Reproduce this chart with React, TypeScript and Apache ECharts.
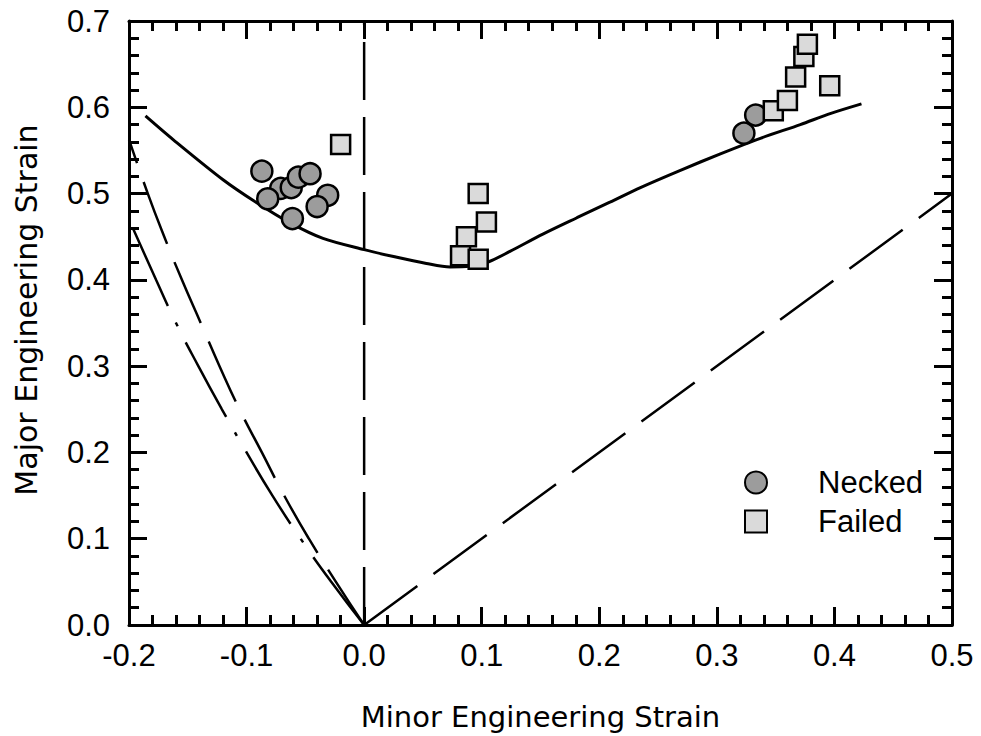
import React, { useEffect, useRef } from "react";
import * as echarts from "echarts";

// Tick labels
const xTicks = [-0.2, -0.1, 0.0, 0.1, 0.2, 0.3, 0.4, 0.5];
const yTicks = [0.0, 0.1, 0.2, 0.3, 0.4, 0.5, 0.6, 0.7];

// Scatter data
const neckedMinor = [-0.087, -0.071, -0.082, -0.062, -0.056, -0.046, -0.031, -0.040, -0.061, 0.323, 0.333];
const neckedMajor = [0.526, 0.506, 0.494, 0.507, 0.519, 0.523, 0.498, 0.485, 0.471, 0.570, 0.591];

const failedMinor = [-0.020, 0.097, 0.104, 0.087, 0.082, 0.097, 0.348, 0.360, 0.367, 0.374, 0.377, 0.396];
const failedMajor = [0.557, 0.500, 0.467, 0.450, 0.428, 0.424, 0.596, 0.608, 0.635, 0.659, 0.673, 0.625];

// Forming limit curve (solid)
const flcMinor = [-0.186, -0.162, -0.120, -0.091, -0.063, -0.035, 0.0, 0.025, 0.053, 0.073, 0.090, 0.106, 0.124, 0.152, 0.181, 0.209, 0.235, 0.269, 0.303, 0.337, 0.371, 0.397, 0.423];
const flcMajor = [0.590, 0.562, 0.516, 0.489, 0.466, 0.448, 0.435, 0.427, 0.419, 0.415, 0.416, 0.421, 0.433, 0.453, 0.472, 0.490, 0.507, 0.527, 0.546, 0.564, 0.580, 0.593, 0.604];

// Strain paths
const uniaxMinor = [0.0, -0.024, -0.047, -0.068, -0.087, -0.106, -0.123, -0.139, -0.155, -0.170, -0.184, -0.200];
const uniaxMajor = [0.0, 0.05, 0.10, 0.15, 0.20, 0.25, 0.30, 0.35, 0.40, 0.45, 0.50, 0.5625];

const dashDotMinor = [0.0, -0.028, -0.054, -0.078, -0.100, -0.121, -0.141, -0.160, -0.177, -0.200];
const dashDotMajor = [0.0, 0.05, 0.10, 0.15, 0.20, 0.25, 0.30, 0.35, 0.40, 0.47];

const planeMinor = [0.0, 0.0];
const planeMajor = [0.0, 0.7];

const biaxMinor = [0.0, 0.5];
const biaxMajor = [0.0, 0.5];

const zip = (a: number[], b: number[]) => a.map((v, i) => [v, b[i]]);

const TICK_FONT = "'Liberation Sans', Arial, sans-serif";
const TITLE_FONT = "'DejaVu Sans', sans-serif";

export default function App() {
  const ref = useRef<HTMLDivElement>(null);
  useEffect(() => {
    if (!ref.current) return;
    const chart = echarts.init(ref.current, undefined, { renderer: "svg" });

    const axisBase = {
      type: "value" as const,
      axisLine: { show: true, onZero: false, lineStyle: { color: "#000", width: 3 } },
      axisTick: { show: true, inside: true, length: 18, lineStyle: { color: "#000", width: 3 } },
      minorTick: { show: true, splitNumber: 5, length: 10, lineStyle: { color: "#000", width: 3 } },
      splitLine: { show: false },
      minorSplitLine: { show: false },
    };

    const fmt = (v: number) => v.toFixed(1);

    chart.setOption({
      animation: false,
      backgroundColor: "#fff",
      grid: { left: 129, right: 29, top: 21, bottom: 111, containLabel: false },
      xAxis: [
        {
          ...axisBase,
          position: "bottom",
          min: xTicks[0],
          max: xTicks[xTicks.length - 1],
          interval: 0.1,
          name: "Minor Engineering Strain",
          nameLocation: "middle",
          nameGap: 77,
          nameTextStyle: { fontFamily: TITLE_FONT, fontSize: 29, color: "#000" },
          axisLabel: { show: true, margin: 15, formatter: fmt, fontFamily: TICK_FONT, fontSize: 31, color: "#000" },
        },
        {
          ...axisBase,
          position: "top",
          min: xTicks[0],
          max: xTicks[xTicks.length - 1],
          interval: 0.1,
          axisLabel: { show: false },
        },
      ],
      yAxis: [
        {
          ...axisBase,
          position: "left",
          min: yTicks[0],
          max: yTicks[yTicks.length - 1],
          interval: 0.1,
          name: "Major Engineering Strain",
          nameLocation: "middle",
          nameGap: 88,
          nameTextStyle: { fontFamily: TITLE_FONT, fontSize: 30, color: "#000", padding: [0, 0, 0, 26] },
          axisLabel: { show: true, margin: 19, formatter: fmt, fontFamily: TICK_FONT, fontSize: 31, color: "#000" },
        },
        {
          ...axisBase,
          position: "right",
          min: yTicks[0],
          max: yTicks[yTicks.length - 1],
          interval: 0.1,
          axisLabel: { show: false },
        },
      ],
      legend: {
        orient: "vertical",
        left: 744,
        top: 467,
        padding: 0,
        itemWidth: 22,
        itemHeight: 22,
        itemGap: 8,
        data: ["Necked", "Failed"],
        textStyle: { fontFamily: TICK_FONT, fontSize: 31, color: "#000", padding: [0, 0, 0, 46] },
      },
      series: [
        {
          type: "line",
          name: "Plane strain",
          data: zip(planeMinor, planeMajor),
          symbol: "none",
          lineStyle: { color: "#000", width: 2.5, type: [58, 17] },
          z: 2,
        },
        {
          type: "line",
          name: "Equibiaxial",
          data: zip(biaxMinor, biaxMajor),
          symbol: "none",
          lineStyle: { color: "#000", width: 2.5, type: [66, 20] },
          z: 2,
        },
        {
          type: "line",
          name: "Uniaxial",
          data: zip(uniaxMinor, uniaxMajor),
          symbol: "none",
          smooth: true,
          lineStyle: { color: "#000", width: 2.5, type: [66, 20] },
          z: 2,
        },
        {
          type: "line",
          name: "DashDot",
          data: zip(dashDotMinor, dashDotMajor),
          symbol: "none",
          smooth: true,
          lineStyle: { color: "#000", width: 2.5, type: [85, 18, 4, 18] },
          z: 2,
        },
        {
          type: "line",
          name: "FLC",
          data: zip(flcMinor, flcMajor),
          symbol: "none",
          smooth: 0.3,
          lineStyle: { color: "#000", width: 3 },
          z: 3,
        },
        {
          type: "scatter",
          name: "Necked",
          data: zip(neckedMinor, neckedMajor),
          symbol: "circle",
          symbolSize: 21,
          itemStyle: { color: "#9c9c9c", borderColor: "#000", borderWidth: 2.5, opacity: 1 },
          z: 4,
        },
        {
          type: "scatter",
          name: "Failed",
          data: zip(failedMinor, failedMajor),
          symbol: "rect",
          symbolSize: 19,
          itemStyle: { color: "#dadada", borderColor: "#000", borderWidth: 2.5, opacity: 1 },
          z: 4,
        },
      ],
    });
    return () => chart.dispose();
  }, []);

  return (
    <div
      ref={ref}
      style={{ position: "fixed", left: 0, top: 0, width: 981, height: 736, background: "#fff" }}
    />
  );
}
